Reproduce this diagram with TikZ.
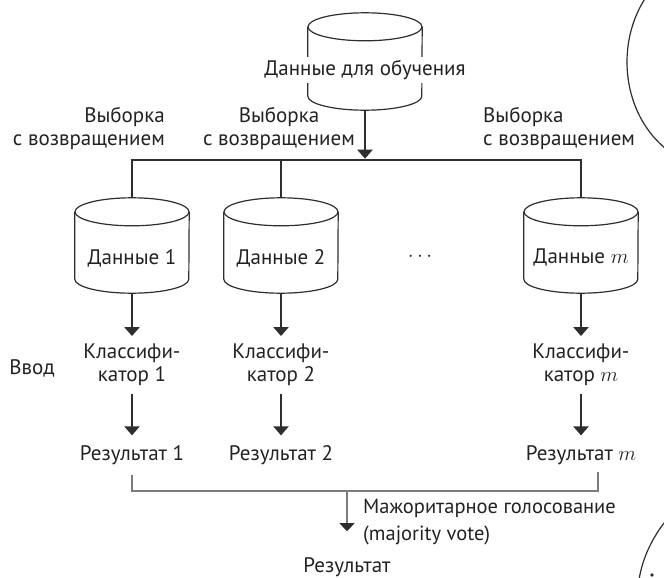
\documentclass[tikz,border=0pt]{standalone}
\usepackage{fontspec}
\setmainfont{PT Sans}
\usetikzlibrary{arrows.meta}
\definecolor{ln}{HTML}{2E2E2E}
\definecolor{gr}{HTML}{7C7C7C}
\definecolor{tx}{HTML}{222222}
\newcommand\cylbody[1]{%
  \draw[cylline] ([yshift=-14pt]#1.north west) -- ([yshift=14pt]#1.south west)
     arc[start angle=180, end angle=360, x radius=57pt, y radius=14pt]
     -- ([yshift=-14pt]#1.north east);
  \draw[cylline] ([yshift=-14pt]#1.north) ellipse [x radius=57pt, y radius=14pt];}
\begin{document}
\begin{tikzpicture}[x=1pt,y=-1pt,
  font=\fontsize{21}{23}\selectfont, text=tx,
  cyl/.style={rectangle, draw=none, minimum width=114pt, minimum height=95pt, inner sep=0pt},
  cylline/.style={draw=ln, line width=1.2pt},
  lbl/.style={inner sep=2pt},
  clf/.style={align=center, inner sep=2pt, outer sep=6pt},
  res/.style={inner sep=2pt, outer sep=8pt},
  bus/.style={draw=ln, line width=2.6pt},
  busarrow/.style={draw=ln, line width=2.6pt, -{Triangle[width=15pt,length=9pt]}},
  agg/.style={draw=gr, line width=1.2pt},
  aggarrow/.style={draw=gr, line width=1.2pt, -{Triangle[width=15pt,length=8pt,color=ln]}},
  deco/.style={draw=ln, line width=1.2pt}]
\useasboundingbox (0,0) rectangle (664,578);

% top data store
\node[cyl, minimum height=97pt] (top) at (365,61.5) {};
\cylbody{top}
\node[fill=white, inner sep=3pt, minimum height=26pt] (toptext) at (365,70) {Данные для обучения};

% bus
\coordinate (busmid) at (365,160);
\draw[busarrow] (top.south) -- ([yshift=1.3pt]busmid);

% bootstrap samples
\node[cyl] (c1) at (132,245.5) {};
\node[cyl] (c2) at (281,245.5) {};
\node[cyl] (cm) at (581,245.5) {};
\cylbody{c1}
\cylbody{c2}
\cylbody{cm}
\node[lbl] (t1) at (132,258) {Данные 1};
\node[lbl] (t2) at (281,258) {Данные 2};
\node[lbl] (tm) at (581,258) {Данные $m$};
\node[lbl] (dots) at (420,257) {$\cdots$};

\draw[bus] (c1.north) -- (c1.north |- busmid) -- (cm.north |- busmid) -- (cm.north);
\draw[bus] (c2.north) -- (c2.north |- busmid);

% sampling labels
\node[lbl, align=right, anchor=east] (s1) at (167,128.5) {Выборка\\с возвращением};
\node[lbl, align=center] (s2) at (279,128.5) {Выборка\\с возвращением};
\node[lbl, align=left, anchor=west] (s3) at (481,128.5) {Выборка\\с возвращением};

% classifiers
\node[clf] (k1) at (132,365) {Классифи-\\катор 1};
\node[clf] (k2) at (281,365) {Классифи-\\катор 2};
\node[clf] (km) at (581,365) {Классифи-\\катор $m$};
\node[lbl] (in) at (32,368) {Ввод};

\draw[busarrow] (c1.south) -- (k1.north);
\draw[busarrow] (c2.south) -- (k2.north);
\draw[busarrow] (cm.south) -- (km.north);

% results
\node[res] (r1) at (132,455) {Результат 1};
\node[res] (r2) at (281,455) {Результат 2};
\node[res] (rm) at (581,455) {Результат $m$};

\draw[busarrow] (k1.south) -- (r1.north);
\draw[busarrow] (k2.south) -- (r2.north);
\draw[busarrow] (km.south) -- (rm.north);

% aggregation
\coordinate (agg) at (347,491);
\coordinate (rmr) at (598,472);
\draw[agg] (r1.south) |- (agg) -| (rmr);
\node[lbl] (final) at (347,567) {Результат};
\draw[aggarrow, shorten >=24pt] (agg) -- (final.north);
\node[lbl, align=left, anchor=north west, font=\fontsize{20.5}{27}\selectfont] (vote) at (361,497) {Мажоритарное голосование\\(majority vote)};

% partial shapes at the right edge
\begin{scope}
\clip (0,0) rectangle (664,578);
\draw[deco] (716,62) ellipse [x radius=89, y radius=105];
\draw[deco] (664,523) .. controls (651,540) and (642,560) .. (639,580);
\fill[ln] (652,575) circle [radius=1.8];
\end{scope}
\end{tikzpicture}
\end{document}
